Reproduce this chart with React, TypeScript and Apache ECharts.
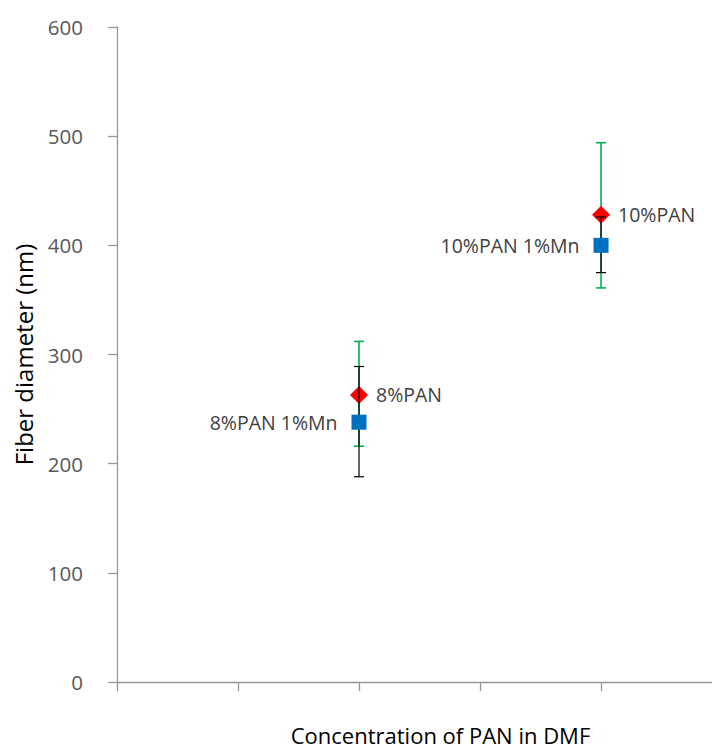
import React, { useEffect, useRef } from "react";
import * as echarts from "echarts";

const xValues = [8, 10];
const xTickValues = [6, 7, 8, 9, 10];
const panLabels = ["8%PAN", "10%PAN"];
const panMean = [263, 428];
const panLow = [216, 361];
const panHigh = [312, 494];
const mnLabels = ["8%PAN 1%Mn", "10%PAN 1%Mn"];
const mnMean = [238, 400];
const mnLow = [188, 375];
const mnHigh = [289, 426];
const yTicks = [0, 100, 200, 300, 400, 500, 600];

const FONT = "'Open Sans', 'Noto Sans', sans-serif";
const AXIS_COLOR = "#979797";

function errorSeries(name: string, low: number[], high: number[], color: string, width: number, z: number) {
  return {
    type: "custom",
    name,
    z,
    data: xValues.map((x, i) => [x, low[i], high[i]]),
    renderItem: (params: any, api: any) => {
      const x = api.value(0);
      const lo = api.coord([x, api.value(1)]);
      const hi = api.coord([x, api.value(2)]);
      const cap = 5;
      const style = { stroke: color, lineWidth: width };
      return {
        type: "group",
        children: [
          { type: "line", shape: { x1: lo[0], y1: lo[1], x2: hi[0], y2: hi[1] }, style },
          { type: "line", shape: { x1: lo[0] - cap, y1: lo[1], x2: lo[0] + cap, y2: lo[1] }, style },
          { type: "line", shape: { x1: hi[0] - cap, y1: hi[1], x2: hi[0] + cap, y2: hi[1] }, style },
        ],
      };
    },
  };
}

export default function App() {
  const ref = useRef<HTMLDivElement>(null);
  useEffect(() => {
    if (!ref.current) return;
    const chart = echarts.init(ref.current, undefined, { renderer: "svg" });
    chart.setOption({
      animation: false,
      backgroundColor: "#ffffff",
      grid: { left: 117, right: 0, top: 27, bottom: 67 },
      xAxis: {
        type: "value",
        min: 6,
        max: 10.917,
        name: "Concentration of PAN in DMF",
        nameLocation: "middle",
        nameGap: 42,
        nameTextStyle: { fontFamily: FONT, fontSize: 22, color: "#000000", padding: [0, 0, 0, 52] },
        axisLine: { show: true, lineStyle: { color: AXIS_COLOR, width: 1.3 } },
        axisTick: { show: true, length: 9, customValues: xTickValues, lineStyle: { color: AXIS_COLOR, width: 1.3 } },
        axisLabel: { show: false },
        splitLine: { show: false },
      },
      yAxis: {
        type: "value",
        min: yTicks[0],
        max: yTicks[yTicks.length - 1],
        interval: 100,
        name: "Fiber diameter (nm)",
        nameLocation: "middle",
        nameGap: 82,
        nameTextStyle: { fontFamily: FONT, fontSize: 24, color: "#000000" },
        axisLine: { show: true, lineStyle: { color: AXIS_COLOR, width: 1.3 } },
        axisTick: { show: true, length: 9, lineStyle: { color: AXIS_COLOR, width: 1.3 } },
        axisLabel: { margin: 34, fontFamily: FONT, fontSize: 20.5, color: "#595959" },
        splitLine: { show: false },
      },
      series: [
        errorSeries("panErr", panLow, panHigh, "#00b050", 1.6, 1),
        {
          type: "scatter",
          name: "PAN",
          z: 2,
          symbol: "diamond",
          symbolSize: [18, 18],
          itemStyle: { color: "#ff0000", opacity: 1 },
          data: xValues.map((x, i) => ({ value: [x, panMean[i]], label: { formatter: panLabels[i] } })),
          label: {
            show: true,
            position: "right",
            distance: 8,
            fontFamily: FONT,
            fontSize: 19.5,
            color: "#404040",
          },
        },
        errorSeries("mnErr", mnLow, mnHigh, "#000000", 1.2, 3),
        {
          type: "scatter",
          name: "PAN 1%Mn",
          z: 4,
          symbol: "rect",
          symbolSize: [15, 15],
          itemStyle: { color: "#0070c0", opacity: 1 },
          data: xValues.map((x, i) => ({ value: [x, mnMean[i]], label: { formatter: mnLabels[i] } })),
          label: {
            show: true,
            position: "left",
            distance: 14,
            fontFamily: FONT,
            fontSize: 19.5,
            color: "#404040",
          },
        },
      ],
    });
    return () => chart.dispose();
  }, []);
  return (
    <div
      ref={ref}
      style={{ position: "fixed", left: 0, top: 0, width: 712, height: 751 }}
    />
  );
}
